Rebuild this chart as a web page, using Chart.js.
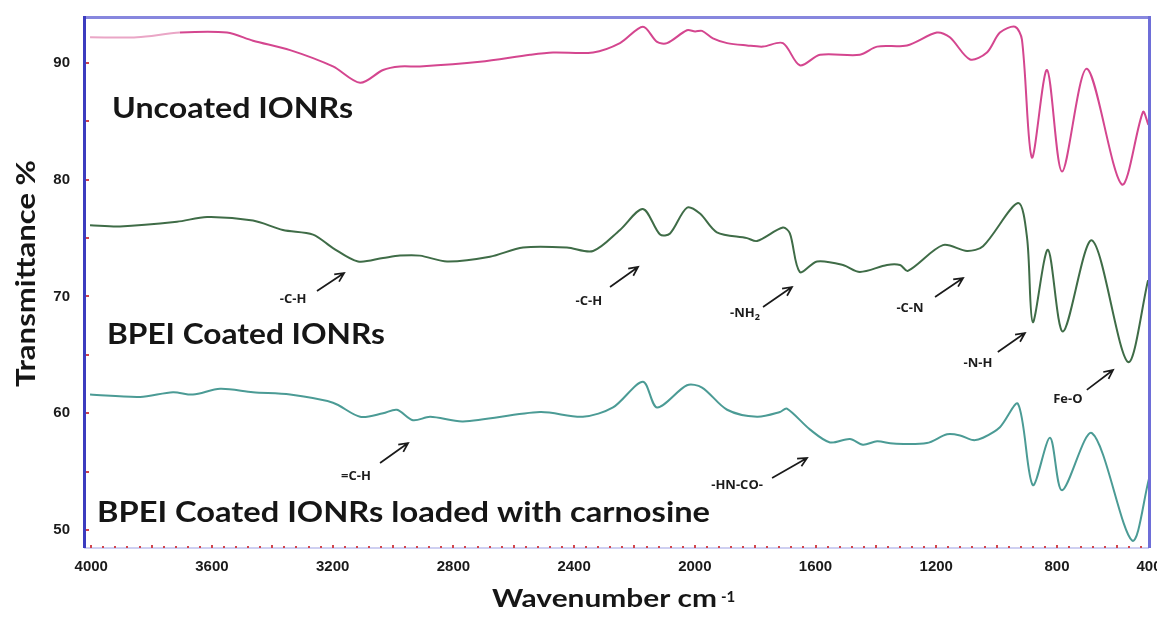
<!DOCTYPE html>
<html>
<head>
<meta charset="utf-8">
<script src="https://cdn.jsdelivr.net/npm/chart.js@4.4.1/dist/chart.umd.min.js"></script>
<style>
  html, body { margin: 0; padding: 0; background: #fff; }
  #wrap { width: 1157px; height: 617px; }
</style>
</head>
<body>
<div id="wrap"><canvas id="ftir" width="1157" height="617"></canvas></div>
<script>
// FTIR spectra: wavenumber (cm-1) and transmittance (%)
const uncoatedWn = [4004, 3848, 3706, 3550, 3464, 3341, 3199, 3109, 3033, 2977, 2911, 2712, 2546, 2470, 2337, 2248, 2172, 2125, 2092, 2026, 1999, 1976, 1940, 1893, 1827, 1774, 1708, 1652, 1585, 1453, 1396, 1297, 1198, 1155, 1088, 1032, 989, 939, 916, 883, 833, 783, 701, 585, 515, 497];
const uncoatedT = [92.2, 92.2, 92.6, 92.6, 91.9, 91.1, 89.7, 88.3, 89.4, 89.7, 89.7, 90.1, 90.7, 90.9, 90.9, 91.7, 93.1, 91.8, 91.7, 92.8, 92.7, 92.75, 92.1, 91.7, 91.5, 91.4, 91.7, 89.8, 90.7, 90.7, 91.4, 91.5, 92.6, 92.2, 90.3, 90.9, 92.6, 93.1, 92.0, 81.9, 89.4, 80.7, 89.5, 79.6, 85.8, 84.7];

const bpeiWn = [4004, 3905, 3716, 3616, 3464, 3365, 3265, 3199, 3116, 3033, 2977, 2911, 2821, 2679, 2569, 2424, 2337, 2248, 2172, 2115, 2082, 2026, 1983, 1927, 1827, 1794, 1708, 1685, 1652, 1595, 1509, 1453, 1363, 1320, 1294, 1178, 1098, 1045, 929, 899, 880, 830, 780, 684, 565, 498];
const bpeiT = [76.1, 76.0, 76.4, 76.8, 76.5, 75.7, 75.3, 74.15, 73.0, 73.3, 73.5, 73.5, 73.0, 73.4, 74.2, 74.2, 73.9, 75.7, 77.5, 75.3, 75.4, 77.6, 77.1, 75.5, 75.0, 74.75, 75.9, 75.4, 72.1, 73.0, 72.7, 72.1, 72.7, 72.7, 72.2, 74.4, 73.9, 74.3, 78.0, 75.0, 67.8, 74.0, 67.0, 74.8, 64.4, 71.4];

const carnosineWn = [4004, 3838, 3729, 3663, 3573, 3464, 3341, 3199, 3109, 3033, 2987, 2934, 2877, 2768, 2513, 2371, 2271, 2172, 2125, 2026, 1976, 1893, 1794, 1718, 1695, 1618, 1552, 1486, 1443, 1396, 1343, 1231, 1164, 1121, 1078, 1045, 989, 929, 880, 823, 783, 684, 551, 495];
const carnosineT = [61.6, 61.4, 61.8, 61.6, 62.1, 61.8, 61.6, 60.9, 59.7, 60.0, 60.3, 59.4, 59.7, 59.3, 60.1, 59.7, 60.5, 62.7, 60.5, 62.4, 62.2, 60.3, 59.7, 60.1, 60.4, 58.6, 57.5, 57.8, 57.3, 57.6, 57.4, 57.45, 58.2, 58.1, 57.7, 57.9, 58.8, 60.8, 53.85, 57.9, 53.4, 58.3, 49.1, 54.4];

const xTicks = [4000, 3600, 3200, 2800, 2400, 2000, 1600, 1200, 800];
const xTickLabels = ['4000', '3600', '3200', '2800', '2400', '2000', '1600', '1200', '800', '400'];
const yTicks = [50, 60, 70, 80, 90];

// sample names: text, left wavenumber, baseline transmittance, width px
const sampleLabels = [
  ['Uncoated IONRs', 3931, 85.29, 241],
  ['BPEI Coated IONRs', 3948, 65.93, 278],
  ['BPEI Coated IONRs loaded with carnosine', 3981, 50.69, 613]
];
// band assignments: text, text centre (wn, T), arrow from (wn, T) to (wn, T)
const bandLabels = [
  ['-C-H', 3331, 69.9, 3252, 70.47, 3162, 72.01],
  ['-C-H', 2351, 69.7, 2281, 70.81, 2188, 72.53],
  ['-NH|2', 1834, 68.67, 1774, 69.1, 1678, 70.81],
  ['-C-N', 1287, 69.1, 1204, 69.96, 1111, 71.58],
  ['-N-H', 1062, 64.39, 996, 65.25, 906, 66.87],
  ['Fe-O', 764, 61.31, 701, 62.0, 614, 63.7],
  ['=C-H', 3123, 54.71, 3043, 55.74, 2950, 57.45],
  ['-HN-CO-', 1860, 53.94, 1744, 54.45, 1628, 56.17]
];

const X_MIN = 495, X_MAX = 4024, Y_MIN = 48.46, Y_MAX = 93.85;

const toPoints = (wn, t) => wn.map((w, i) => ({ x: w, y: t[i] }));

function fitText(ctx, text, x, y, width) {
  const w = ctx.measureText(text).width;
  ctx.save();
  ctx.translate(x, y);
  ctx.scale(width / w, 1);
  ctx.fillText(text, 0, 0);
  ctx.restore();
}

function arrow(ctx, x1, y1, x2, y2) {
  const ang = Math.atan2(y2 - y1, x2 - x1), h = 10;
  ctx.beginPath();
  ctx.moveTo(x1, y1);
  ctx.lineTo(x2, y2);
  ctx.moveTo(x2 - h * Math.cos(ang - 0.45), y2 - h * Math.sin(ang - 0.45));
  ctx.lineTo(x2, y2);
  ctx.lineTo(x2 - h * Math.cos(ang + 0.45), y2 - h * Math.sin(ang + 0.45));
  ctx.stroke();
}

// box, red minor ticks on the axes
const framePlugin = {
  id: 'frame',
  afterDatasetsDraw(chart) {
    const { ctx, chartArea: a, scales: { x, y } } = chart;
    ctx.save();
    ctx.fillStyle = '#cfd0f2';
    ctx.fillRect(a.left, a.bottom - 1, a.right - a.left, 2);
    ctx.fillStyle = '#d2454d';
    for (let v = 4000; v >= X_MIN; v -= 40) {
      const px = Math.round(x.getPixelForValue(v));
      const major = v % 200 === 0;
      ctx.fillRect(px - 1, a.bottom - (major ? 3 : 2), 2, major ? 3 : 2);
    }
    for (let v = 50; v <= 90; v += 5) {
      const py = Math.round(y.getPixelForValue(v));
      ctx.fillRect(a.left + 1, py - 1, 4, 2);
    }
    ctx.fillStyle = '#8787de';
    ctx.fillRect(a.left, a.top - 2, a.right - a.left + 2, 3);
    ctx.fillStyle = '#3c3cbf';
    ctx.fillRect(a.left - 1, a.top - 2, 3, a.bottom - a.top + 2);
    ctx.fillStyle = '#6e6ed8';
    ctx.fillRect(a.right - 1, a.top - 2, 3, a.bottom - a.top + 2);
    ctx.restore();
  }
};

// axis titles, sample names and band labels
const textPlugin = {
  id: 'texts',
  afterDraw(chart) {
    const { ctx, chartArea: a, scales: { x, y } } = chart;
    ctx.save();
    ctx.fillStyle = '#161616';
    ctx.textBaseline = 'alphabetic';
    ctx.textAlign = 'left';

    ctx.font = 'bold 29px Lato';
    for (const [text, wn, t, w] of sampleLabels) {
      fitText(ctx, text, x.getPixelForValue(wn), y.getPixelForValue(t), w);
    }

    // y title
    ctx.font = 'bold 27px Lato';
    ctx.save();
    ctx.translate(35, 387);
    ctx.rotate(-Math.PI / 2);
    fitText(ctx, 'Transmittance %', 0, 0, 227);
    ctx.restore();

    // x title
    ctx.font = 'bold 25px Lato';
    fitText(ctx, 'Wavenumber cm', 492, 607, 225);
    ctx.font = 'bold 15px Lato';
    ctx.fillText('-1', 721, 602);

    ctx.strokeStyle = '#1a1a1a';
    ctx.lineWidth = 1.7;
    for (const [text, wn, t, x1, y1, x2, y2] of bandLabels) {
      const cx = x.getPixelForValue(wn), cy = y.getPixelForValue(t);
      const [main, sub] = text.split('|');
      ctx.font = 'bold 13px "Open Sans"';
      const mw = ctx.measureText(main).width;
      ctx.font = 'bold 9px "Open Sans"';
      const sw = sub ? ctx.measureText(sub).width : 0;
      const left = cx - (mw + sw) / 2;
      ctx.font = 'bold 13px "Open Sans"';
      ctx.fillStyle = '#1c1c1c';
      ctx.fillText(main, left, cy + 5);
      if (sub) {
        ctx.font = 'bold 9px "Open Sans"';
        ctx.fillText(sub, left + mw, cy + 8);
      }
      arrow(ctx, x.getPixelForValue(x1), y.getPixelForValue(y1), x.getPixelForValue(x2), y.getPixelForValue(y2));
    }
    ctx.restore();
  }
};

const tickFont = { family: 'Liberation Sans', size: 15, weight: 'bold' };

new Chart(document.getElementById('ftir'), {
  type: 'line',
  data: {
    datasets: [
      {
        data: toPoints(uncoatedWn, uncoatedT),
        borderColor: '#d4468f',
        segment: { borderColor: c => (c.p0.parsed.x > 3840 ? '#eaa6c6' : undefined) }
      },
      { data: toPoints(bpeiWn, bpeiT), borderColor: '#3f6c47' },
      { data: toPoints(carnosineWn, carnosineT), borderColor: '#4b9b95' }
    ]
  },
  options: {
    responsive: false,
    animation: false,
    layout: { padding: { top: 18, right: 8, left: 0, bottom: 0 } },
    plugins: { legend: { display: false }, tooltip: { enabled: false } },
    elements: {
      point: { radius: 0 },
      line: { borderWidth: 2, tension: 0.3, fill: false }
    },
    scales: {
      x: {
        type: 'linear',
        reverse: true,
        min: X_MIN,
        max: X_MAX,
        grid: { display: false, drawTicks: false },
        border: { display: false },
        afterBuildTicks: s => { s.ticks = xTicks.concat([X_MIN]).map(v => ({ value: v })); },
        ticks: {
          padding: 10,
          autoSkip: false,
          maxRotation: 0,
          color: '#1a1a1a',
          font: tickFont,
          callback: (v, i) => xTickLabels[i]
        },
        afterFit: s => { s.height = 69; s.paddingLeft = 0; s.paddingRight = 0; }
      },
      y: {
        type: 'linear',
        min: Y_MIN,
        max: Y_MAX,
        grid: { display: false, drawTicks: false },
        border: { display: false },
        afterBuildTicks: s => { s.ticks = yTicks.map(v => ({ value: v })); },
        ticks: { padding: 14, color: '#1a1a1a', font: tickFont },
        afterFit: s => { s.width = 84; s.paddingTop = 0; s.paddingBottom = 0; }
      }
    }
  },
  plugins: [framePlugin, textPlugin]
});
</script>
</body>
</html>
